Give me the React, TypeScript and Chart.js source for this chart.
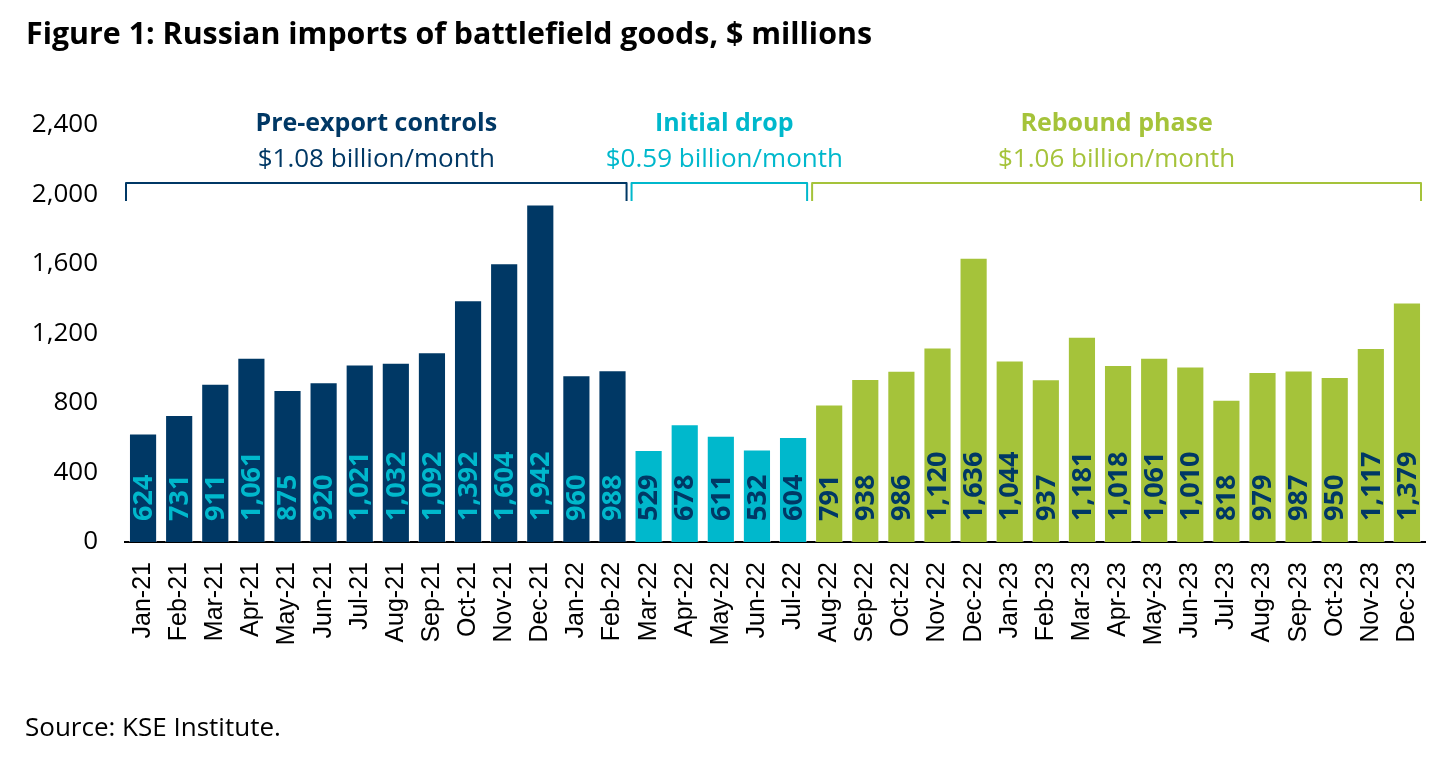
import React, { useEffect, useRef } from "react";
import { Chart, registerables } from "chart.js";

Chart.register(...registerables);

const months = [
  "Jan-21", "Feb-21", "Mar-21", "Apr-21", "May-21", "Jun-21", "Jul-21", "Aug-21", "Sep-21", "Oct-21", "Nov-21", "Dec-21",
  "Jan-22", "Feb-22", "Mar-22", "Apr-22", "May-22", "Jun-22", "Jul-22", "Aug-22", "Sep-22", "Oct-22", "Nov-22", "Dec-22",
  "Jan-23", "Feb-23", "Mar-23", "Apr-23", "May-23", "Jun-23", "Jul-23", "Aug-23", "Sep-23", "Oct-23", "Nov-23", "Dec-23",
];

const imports = [
  624, 731, 911, 1061, 875, 920, 1021, 1032, 1092, 1392, 1604, 1942,
  960, 988, 529, 678, 611, 532, 604, 791, 938, 986, 1120, 1636,
  1044, 937, 1181, 1018, 1061, 1010, 818, 979, 987, 950, 1117, 1379,
];

// phase of each month: 0 = pre-export controls, 1 = initial drop, 2 = rebound
const phaseOf = [
  0, 0, 0, 0, 0, 0, 0, 0, 0, 0, 0, 0,
  0, 0, 1, 1, 1, 1, 1, 2, 2, 2, 2, 2,
  2, 2, 2, 2, 2, 2, 2, 2, 2, 2, 2, 2,
];

const phaseNames = ["Pre-export controls", "Initial drop", "Rebound phase"];
const phaseAverages = ["$1.08 billion/month", "$0.59 billion/month", "$1.06 billion/month"];

const NAVY = "#003865";
const CYAN = "#00B8CC";
const GREEN = "#A5C33A";
const phaseColors = [NAVY, CYAN, GREEN];
const labelColors = [CYAN, NAVY, NAVY];

const yTicks = [0, 400, 800, 1200, 1600, 2000, 2400];

const fmt = (v: number) => v.toLocaleString("en-US");

const annotations = {
  id: "annotations",
  afterDatasetsDraw(chart: any) {
    const { ctx, chartArea } = chart;
    const xs = chart.scales.x;
    const meta = chart.getDatasetMeta(0);
    ctx.save();

    // value labels inside bars, reading upward from the base
    meta.data.forEach((bar: any, i: number) => {
      ctx.save();
      ctx.translate(bar.x, bar.base - 21);
      ctx.rotate(-Math.PI / 2);
      ctx.font = "bold 27px 'Open Sans'";
      ctx.fillStyle = labelColors[phaseOf[i]];
      ctx.textAlign = "left";
      ctx.textBaseline = "middle";
      ctx.fillText(fmt(imports[i]), 0, 1);
      ctx.restore();
    });

    // brackets with phase headings
    const half = (xs.getPixelForValue(1) - xs.getPixelForValue(0)) / 2;
    const yLine = chartArea.top + 58;
    const yFoot = chartArea.top + 76;
    phaseNames.forEach((name, p) => {
      const first = phaseOf.indexOf(p);
      const last = phaseOf.lastIndexOf(p);
      const x0 = xs.getPixelForValue(first) - half + 1;
      const x1 = xs.getPixelForValue(last) + half - 4;
      ctx.strokeStyle = phaseColors[p];
      ctx.lineWidth = 2;
      ctx.lineJoin = "round";
      ctx.beginPath();
      ctx.moveTo(x0, yFoot);
      ctx.lineTo(x0, yLine);
      ctx.lineTo(x1, yLine);
      ctx.lineTo(x1, yFoot);
      ctx.stroke();

      const cx = (x0 + x1) / 2 + (p === 1 ? 5 : 0);
      ctx.fillStyle = phaseColors[p];
      ctx.textAlign = "center";
      ctx.textBaseline = "middle";
      ctx.font = "bold 25px 'Open Sans'";
      ctx.fillText(name, cx, chartArea.top - 1);
      ctx.font = "26px 'Open Sans'";
      ctx.fillText(phaseAverages[p], cx, chartArea.top + 35);
    });

    // title and source
    ctx.fillStyle = "#000";
    ctx.textAlign = "left";
    ctx.textBaseline = "alphabetic";
    ctx.font = "bold 31px 'Open Sans'";
    ctx.fillText("Figure 1: Russian imports of battlefield goods, $ millions", 26, 44, 846);
    ctx.font = "26px 'Open Sans'";
    ctx.textBaseline = "middle";
    ctx.fillText("Source: KSE Institute.", 25, 729, 262);
    ctx.restore();
  },
};

export default function App() {
  const canvasRef = useRef<HTMLCanvasElement | null>(null);

  useEffect(() => {
    if (!canvasRef.current) return;
    const chart = new Chart(canvasRef.current, {
      type: "bar",
      data: {
        labels: months,
        datasets: [
          {
            label: "Imports",
            data: imports,
            backgroundColor: phaseOf.map((p) => phaseColors[p]),
            borderColor: "rgba(255,255,255,0.45)",
            borderWidth: 1,
            barPercentage: 0.78,
            categoryPercentage: 1,
          },
        ],
      },
      options: {
        responsive: false,
        animation: false,
        devicePixelRatio: 1,
        layout: { padding: { top: 125, right: 20, left: 0, bottom: 0 } },
        plugins: {
          legend: { display: false },
          tooltip: { enabled: false },
        },
        scales: {
          x: {
            grid: { display: false, drawTicks: false },
            border: { display: true, color: "#000", width: 2 },
            ticks: {
              color: "#000",
              font: { family: "'Liberation Sans'", size: 25 },
              minRotation: 90,
              maxRotation: 90,
              padding: 20,
              autoSkip: false,
            },
            afterFit: (s: any) => {
              s.height = 216;
              s.paddingRight = 0;
              s.paddingLeft = 0;
            },
          },
          y: {
            min: 0,
            max: 2400,
            grid: { display: false, drawTicks: false },
            border: { display: false },
            afterBuildTicks: (s: any) => {
              s.ticks = yTicks.map((v) => ({ value: v }));
            },
            ticks: {
              color: "#000",
              font: { family: "'Open Sans'", size: 26 },
              padding: 27,
              callback: (v: any) => fmt(Number(v)),
            },
            afterFit: (s: any) => {
              s.width = 125;
            },
          },
        },
      },
      plugins: [annotations],
    });
    return () => chart.destroy();
  }, []);

  return (
    <div style={{ position: "absolute", left: 0, top: 0, width: 1445, height: 758, background: "#fff" }}>
      <canvas ref={canvasRef} width={1445} height={758} />
    </div>
  );
}
